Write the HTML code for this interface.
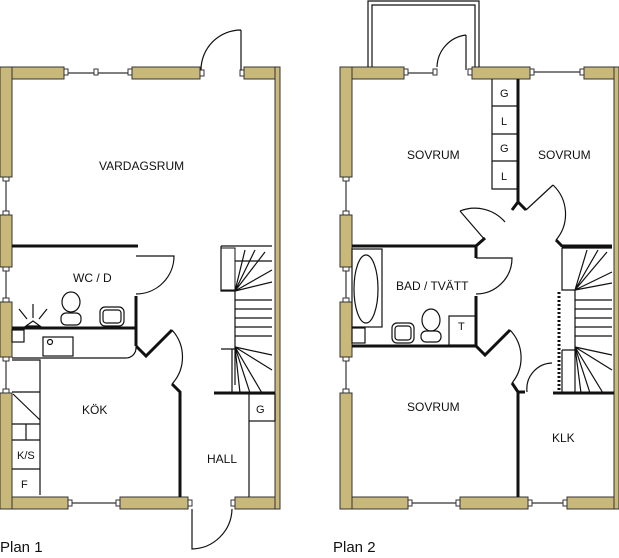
<!DOCTYPE html>
<html><head><meta charset="utf-8"><style>
html,body{margin:0;padding:0;background:#fff;}
svg{display:block;}
text{font-family:"Liberation Sans",sans-serif;fill:#111;}
</style></head><body>
<svg width="619" height="558" viewBox="0 0 619 558" xmlns="http://www.w3.org/2000/svg">
<defs>
<style>
.w{fill:#c8b97a;stroke:#333;stroke-width:1}
.l{stroke:#111;fill:none;stroke-width:1.2}
.t{stroke:#111;fill:none;stroke-width:3}
.win{stroke:#333;stroke-width:1.2}
.cap{fill:#fff;stroke:#333;stroke-width:1}
</style>
</defs>
<!-- ================= PLAN 1 ================= -->
<!-- outer walls -->
<rect class="w" x="0" y="67" width="12" height="110"/>
<rect class="w" x="0" y="215" width="12" height="52"/>
<rect class="w" x="0" y="302" width="12" height="55"/>
<rect class="w" x="0" y="393" width="12" height="116"/>
<rect class="w" x="12" y="67" width="52" height="12"/>
<rect class="w" x="132" y="67" width="68" height="12"/>
<rect class="w" x="244" y="67" width="31" height="12"/>
<rect class="w" x="275" y="67" width="5" height="442"/>
<rect class="w" x="12" y="497" width="56" height="12"/>
<rect class="w" x="120" y="497" width="68" height="12"/>
<rect class="w" x="235" y="497" width="40" height="12"/>
<!-- windows -->
<line class="win" x1="64" y1="73" x2="132" y2="73"/>
<rect class="cap" x="64" y="69" width="4" height="6"/><rect class="cap" x="94" y="69" width="4" height="6"/><rect class="cap" x="128" y="69" width="4" height="6"/>
<line class="win" x1="6" y1="177" x2="6" y2="215"/>
<rect class="cap" x="3" y="177" width="6" height="4"/><rect class="cap" x="3" y="211" width="6" height="4"/>
<line class="win" x1="6" y1="267" x2="6" y2="302"/>
<rect class="cap" x="3" y="267" width="6" height="4"/><rect class="cap" x="3" y="298" width="6" height="4"/>
<line class="win" x1="6" y1="357" x2="6" y2="393"/>
<rect class="cap" x="3" y="357" width="6" height="4"/><rect class="cap" x="3" y="389" width="6" height="4"/>
<line class="win" x1="68" y1="503" x2="120" y2="503"/>
<rect class="cap" x="68" y="500" width="4" height="6"/><rect class="cap" x="116" y="500" width="4" height="6"/>
<!-- front door top -->
<rect class="cap" x="200" y="70" width="4" height="6"/><rect class="cap" x="240" y="70" width="4" height="6"/>
<path class="l" d="M241 30 L241 70 M241 30 A40 40 0 0 0 201 70"/>
<!-- bottom door -->
<rect class="cap" x="188" y="500" width="4" height="6"/><rect class="cap" x="231" y="500" width="4" height="6"/>
<path class="l" d="M192 509 L192 549 A41 41 0 0 0 232 509"/>
<!-- interior -->
<line class="t" x1="12" y1="246" x2="138" y2="246"/>
<path class="l" d="M136 256 L174 256 A38 38 0 0 1 136 294"/>
<line class="t" x1="136" y1="296" x2="136" y2="346"/>
<line class="t" x1="12" y1="328" x2="136" y2="328"/>
<path class="l" d="M12 358 L126 358 A10 10 0 0 0 136 348"/>
<path class="t" d="M136 346 L146 356 L172 330"/>
<path class="l" d="M172 330 A40 40 0 0 1 172 384"/>
<path class="t" d="M172 384 L180 392 L180 497"/>
<rect class="l" x="12" y="330" width="12" height="12"/>
<rect class="l" x="43" y="337" width="30" height="19"/>
<circle class="l" cx="50" cy="342" r="2.5"/>
<!-- lamp -->
<path class="l" d="M26 326 L33 321 L40 326 Z M33 318 L33 304 M27 319 L19 309 M39 319 L47 309"/>
<!-- toilet & sink -->
<ellipse class="l" cx="71" cy="302" rx="9" ry="10"/>
<rect class="l" x="61" y="313" width="20" height="12" rx="5"/>
<rect class="l" x="100" y="307" width="24" height="19" rx="5"/>
<rect class="l" x="103" y="310" width="18" height="13" rx="3"/>
<!-- kitchen cabinets -->
<path class="l" d="M12 360 L40 360 L40 495 M12 392 L40 392 M12 424 L40 424 M12 440 L40 440 M12 469 L40 469 M26 424 L26 440 M13 394 L40 420"/>
<text x="17" y="459" font-size="11">K/S</text>
<text x="21" y="488" font-size="11">F</text>
<!-- stairs -->
<path class="l" d="M221 246 L272 246 M221 246 L221 291 L235 291 M235 261 L272 261 M235 291 L235 385 M235 300 L272 300 M235 309 L272 309 M235 318 L272 318 M235 327 L272 327 M235 336 L272 336 M232 349 L232 393 M221 349 L235 349"/>
<path class="l" d="M235 291 L245 250 M235 291 L255 250 M235 291 L265 252 M235 291 L272 270 M235 291 L272 282 M235 347 L272 355 M235 347 L272 370 M235 347 L262 393 M235 347 L250 393 M235 347 L240 393"/>
<rect x="221" y="248" width="14" height="42" fill="none" stroke="#111"/>
<line class="t" x1="214" y1="393" x2="275" y2="393"/>
<rect class="l" x="249" y="394" width="26" height="27"/>
<text x="256" y="413" font-size="11">G</text>
<path class="l" d="M249 421 L249 497"/>
<!-- labels -->
<text x="99" y="170" font-size="12">VARDAGSRUM</text>
<text x="73" y="282" font-size="12">WC / D</text>
<text x="82" y="414" font-size="12">KÖK</text>
<text x="207" y="463" font-size="12">HALL</text>
<text x="0" y="552" font-size="15">Plan 1</text>

<!-- ================= PLAN 2 ================= -->
<rect class="w" x="340" y="67" width="12" height="110"/>
<rect class="w" x="340" y="215" width="12" height="52"/>
<rect class="w" x="340" y="302" width="12" height="55"/>
<rect class="w" x="340" y="393" width="12" height="116"/>
<rect class="w" x="352" y="67" width="52" height="12"/>
<rect class="w" x="472" y="67" width="58" height="12"/>
<rect class="w" x="584" y="67" width="30" height="12"/>
<rect class="w" x="614" y="67" width="5" height="442"/>
<rect class="w" x="352" y="497" width="56" height="12"/>
<rect class="w" x="460" y="497" width="68" height="12"/>
<rect class="w" x="567" y="497" width="47" height="12"/>
<!-- windows -->
<line class="win" x1="404" y1="73" x2="436" y2="73"/>
<rect class="cap" x="404" y="69" width="4" height="6"/><rect class="cap" x="433" y="69" width="4" height="6"/><rect class="cap" x="468" y="69" width="4" height="6"/>
<path class="l" d="M466 35 L466 70 M466 35 A33 33 0 0 0 437 67"/>
<line class="win" x1="530" y1="72" x2="584" y2="72"/>
<rect class="cap" x="530" y="69" width="4" height="6"/><rect class="cap" x="580" y="69" width="4" height="6"/>
<line class="win" x1="346" y1="177" x2="346" y2="215"/>
<rect class="cap" x="343" y="177" width="6" height="4"/><rect class="cap" x="343" y="211" width="6" height="4"/>
<line class="win" x1="346" y1="267" x2="346" y2="302"/>
<rect class="cap" x="343" y="267" width="6" height="4"/><rect class="cap" x="343" y="298" width="6" height="4"/>
<line class="win" x1="346" y1="357" x2="346" y2="393"/>
<rect class="cap" x="343" y="357" width="6" height="4"/><rect class="cap" x="343" y="389" width="6" height="4"/>
<line class="win" x1="408" y1="503" x2="460" y2="503"/>
<rect class="cap" x="408" y="500" width="4" height="6"/><rect class="cap" x="456" y="500" width="4" height="6"/>
<line class="win" x1="528" y1="503" x2="567" y2="503"/>
<rect class="cap" x="528" y="500" width="4" height="6"/><rect class="cap" x="563" y="500" width="4" height="6"/>
<!-- balcony -->
<path class="l" d="M368 67 L368 1 L479 1 L479 67 M372 67 L372 5 L475 5 L475 67"/>
<!-- closets -->
<path class="l" d="M492 79 L492 189 L518 189 M492 106 L518 106 M492 134 L518 134 M492 161 L518 161"/>
<text x="500" y="97" font-size="11">G</text>
<text x="501" y="125" font-size="11">L</text>
<text x="500" y="152" font-size="11">G</text>
<text x="501" y="180" font-size="11">L</text>
<path class="t" d="M518 79 L518 202 L512 210 M518 202 L526 210"/>
<path class="l" d="M460 211 A40 40 0 0 1 505 222 M460 211 L485 240 M553 185 A40 40 0 0 1 556 240 M553 185 L526 210"/>
<path class="t" d="M352 246 L476 246 L485 238 M476 246 L476 258"/>
<path class="l" d="M476 258 L512 258 A36 36 0 0 1 476 294"/>
<path class="t" d="M476 296 L476 346 M352 346 L476 346 L485 355 L510 330"/>
<path class="l" d="M510 330 A40 40 0 0 1 512 383"/>
<path class="t" d="M512 383 L518 392 L518 497 M518 392 L525 392"/>
<path class="l" d="M527 392 A26 26 0 0 1 552 363"/>
<path class="t" d="M556 240 L562 246 L612 246"/>
<!-- bath -->
<rect class="l" x="352" y="249" width="30" height="78"/>
<ellipse class="l" cx="366" cy="289" rx="12" ry="34"/>
<rect class="l" x="352" y="328" width="13" height="15"/>
<rect class="l" x="392" y="323" width="22" height="20" rx="5"/>
<rect class="l" x="395" y="326" width="16" height="14" rx="3"/>
<ellipse class="l" cx="431" cy="320" rx="9" ry="11"/>
<rect class="l" x="421" y="331" width="20" height="11" rx="5"/>
<rect class="l" x="449" y="316" width="27" height="29"/>
<text x="458" y="330" font-size="11">T</text>
<!-- stairs 2 -->
<path class="l" d="M562 248 L562 290 L575 290 M562 248 L612 248 M575 290 L575 393 M562 350 L562 393 M562 350 L575 350 M575 300 L612 300 M575 309 L612 309 M575 318 L612 318 M575 327 L612 327 M575 336 L612 336"/>
<path class="l" d="M575 290 L587 250 M575 290 L598 250 M575 290 L607 252 M575 290 L612 272 M575 290 L612 283 M575 347 L612 355 M575 347 L612 370 M575 347 L603 393 M575 347 L590 393 M575 347 L581 393"/>
<line x1="559" y1="292" x2="559" y2="392" stroke="#111" stroke-width="3" stroke-dasharray="2,2"/>
<line class="t" x1="553" y1="393" x2="614" y2="393"/>
<!-- labels -->
<text x="407" y="159" font-size="12">SOVRUM</text>
<text x="538" y="159" font-size="12">SOVRUM</text>
<text x="396" y="290" font-size="12">BAD / TVÄTT</text>
<text x="407" y="411" font-size="12">SOVRUM</text>
<text x="552" y="442" font-size="12">KLK</text>
<text x="333" y="552" font-size="15">Plan 2</text>
</svg>
</body></html>
